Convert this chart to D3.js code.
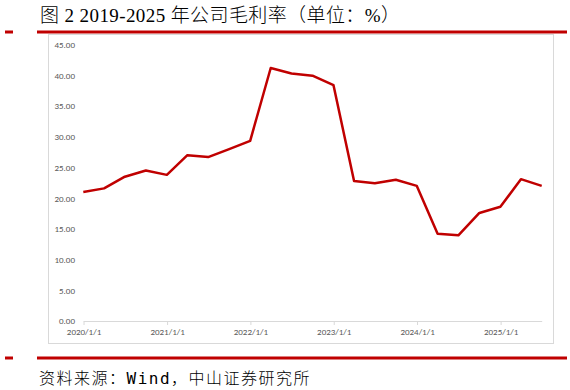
<!DOCTYPE html>
<html>
<head>
<meta charset="utf-8">
<script src="https://cdn.jsdelivr.net/npm/d3@7"></script>
<style>
  body { margin: 0; background: #fff; }
  svg { display: block; }
</style>
</head>
<body>
<div id="chart"></div>
<script>
// quarterly gross margin, %
const dates = [
  '2019-12-31', '2020-03-31', '2020-06-30', '2020-09-30',
  '2020-12-31', '2021-03-31', '2021-06-30', '2021-09-30',
  '2021-12-31', '2022-03-31', '2022-06-30', '2022-09-30',
  '2022-12-31', '2023-03-31', '2023-06-30', '2023-09-30',
  '2023-12-31', '2024-03-31', '2024-06-30', '2024-09-30',
  '2024-12-31', '2025-03-31', '2025-06-30'
];
const margin = [
  21.0, 21.6, 23.5, 24.5,
  23.8, 27.0, 26.7, 28.0,
  29.35, 41.2, 40.3, 39.95,
  38.4, 22.8, 22.45, 23.0,
  22.0, 14.2, 13.95, 17.6,
  18.6, 23.1, 22.0
];
const yTicks = [0, 5, 10, 15, 20, 25, 30, 35, 40, 45];
const xTicks = ['2020-01-01', '2021-01-01', '2022-01-01', '2023-01-01', '2024-01-01', '2025-01-01'];

const title = '图 2 2019-2025 年公司毛利率（单位：%）';
const source = '资料来源：Wind，中山证券研究所';

const W = 570, H = 390;
const red = '#c00000';
const parse = d3.timeParse('%Y-%m-%d');
const data = dates.map((d, i) => ({ date: parse(d), v: margin[i] }));

const svg = d3.select('#chart').append('svg')
  .attr('width', W).attr('height', H);

// header
svg.append('text')
  .attr('x', 40).attr('y', 22)
  .attr('font-family', '"Liberation Serif", "Noto Sans CJK SC", serif')
  .attr('font-size', 19)
  .attr('font-weight', 300)
  .attr('letter-spacing', 0.4)
  .attr('fill', '#000')
  .text(title);

const rule = (y) => {
  svg.append('line').attr('x1', 5).attr('x2', 13).attr('y1', y).attr('y2', y)
    .attr('stroke', red).attr('stroke-width', 3);
  svg.append('line').attr('x1', 37).attr('x2', 567).attr('y1', y).attr('y2', y)
    .attr('stroke', red).attr('stroke-width', 3);
};
rule(32);
rule(358);

// chart frame
svg.append('rect')
  .attr('x', 48.5).attr('y', 34.5)
  .attr('width', 505).attr('height', 309)
  .attr('fill', 'none').attr('stroke', '#d9d9d9');

const x = d3.scaleTime()
  .domain([parse('2019-12-31'), parse('2025-06-30')])
  .range([83.3, 541.7]);
const y = d3.scaleLinear()
  .domain([0, 45])
  .range([321, 44.7]);

// y labels, no axis line
const yAxis = d3.axisLeft(y)
  .tickValues(yTicks)
  .tickSize(0)
  .tickPadding(0)
  .tickFormat(d3.format('.2f'));
svg.append('g')
  .attr('transform', 'translate(75,0)')
  .call(yAxis)
  .call(g => g.select('.domain').remove())
  .call(g => g.selectAll('text')
    .attr('fill', '#595959')
    .attr('font-family', 'Calibri, "Carlito", "Open Sans", sans-serif')
    .attr('font-size', 9));

// x axis
const xAxis = d3.axisBottom(x)
  .tickValues(xTicks.map(parse))
  .tickSize(4)
  .tickSizeOuter(0)
  .tickPadding(4)
  .tickFormat(d3.timeFormat('%Y/%-m/%-d'));
svg.append('g')
  .attr('transform', `translate(0,${y(0)})`)
  .call(xAxis)
  .call(g => g.select('.domain').attr('stroke', '#d9d9d9'))
  .call(g => g.selectAll('.tick line').attr('stroke', '#d9d9d9'))
  .call(g => g.selectAll('text')
    .attr('fill', '#595959')
    .attr('font-family', 'Calibri, "Carlito", "Open Sans", sans-serif')
    .attr('font-size', 9));

const line = d3.line()
  .x(d => x(d.date))
  .y(d => y(d.v));

svg.append('path')
  .datum(data)
  .attr('d', line)
  .attr('fill', 'none')
  .attr('stroke', red)
  .attr('stroke-width', 2.5)
  .attr('stroke-linejoin', 'round');

// footer
svg.append('text')
  .attr('x', 39).attr('y', 384)
  .attr('font-family', '"DejaVu Sans Mono", "Noto Sans CJK SC", monospace')
  .attr('font-size', 16)
  .attr('font-weight', 300)
  .attr('letter-spacing', 1.5)
  .attr('fill', '#000')
  .text(source);
</script>
</body>
</html>
